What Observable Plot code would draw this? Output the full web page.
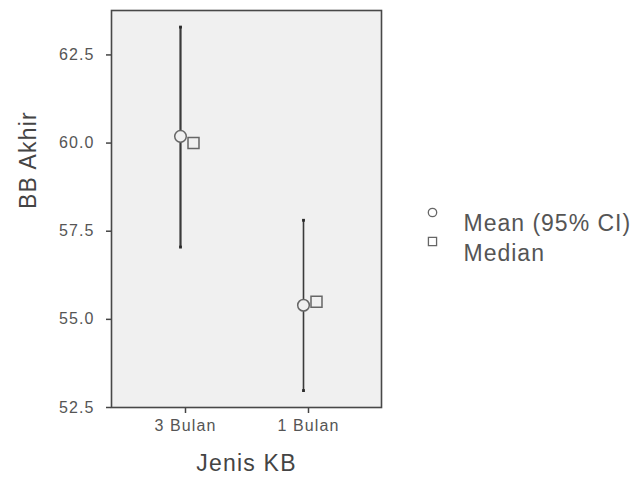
<!DOCTYPE html>
<html>
<head>
<meta charset="utf-8">
<script src="https://cdn.jsdelivr.net/npm/d3@7"></script>
<script src="https://cdn.jsdelivr.net/npm/@observablehq/plot@0.6"></script>
<style>
  html, body { margin: 0; padding: 0; background: #fff; }
  #chart svg { font-family: "Liberation Sans", Arial, sans-serif; }
  #chart g[aria-label="y-axis tick label"] text,
  #chart g[aria-label="x-axis tick label"] text { letter-spacing: 1.1px; }
  #chart g.lbl text { letter-spacing: 1.2px; }
  #chart g.leg text { letter-spacing: 1px; }
</style>
</head>
<body>
<div id="chart"></div>
<script>
const categories = ["3 Bulan", "1 Bulan"];
const means = [60.19, 55.4];
const medians = [60.0, 55.5];
const ciLow = [57.05, 52.98];
const ciHigh = [63.29, 57.81];
const yTicks = [52.5, 55.0, 57.5, 60.0, 62.5];
const legendLabels = ["Mean (95% CI)", "Median"];
const xTitle = "Jenis KB";
const yTitle = "BB Akhir";

const data = categories.map((c, i) => ({
  cat: c, mean: means[i], median: medians[i], lo: ciLow[i], hi: ciHigh[i],
  sw: i === 0 ? 2.2 : 1.6
}));
const caps = data.flatMap(d => [{cat: d.cat, v: d.lo}, {cat: d.cat, v: d.hi}]);

const chart = Plot.plot({
  width: 642,
  height: 489,
  marginLeft: 111,
  marginRight: 261,
  marginTop: 10,
  marginBottom: 82,
  style: {background: "#fff", color: "#555"},
  x: {type: "point", domain: categories, padding: 0.589, label: null},
  y: {domain: [52.5, 63.76], label: null},
  marks: [
    Plot.frame({fill: "#f0f0f0", stroke: "none"}),
    Plot.axisY({ticks: yTicks, tickFormat: d3.format(".1f"), tickSize: 5, tickPadding: 12, fontSize: 16, stroke: "#444", strokeWidth: 1.5, color: "#555", label: null}),
    Plot.axisX({tickSize: 6, tickPadding: 6, fontSize: 16, stroke: "#444", strokeWidth: 1.5, color: "#555", label: null}),
    Plot.ruleX(data, {x: "cat", y1: "lo", y2: "hi", dx: -5, stroke: "#3a3a3a", strokeWidth: "sw"}),
    Plot.dot(caps, {x: "cat", y: "v", dx: -5, symbol: "square", r: 1.6, fill: "#2a2a2a", stroke: null}),
    Plot.dot(data, {x: "cat", y: "median", dx: 8, symbol: "square", r: 6.2, fill: "#f0f0f0", stroke: "#666", strokeWidth: 1.5}),
    Plot.dot(data, {x: "cat", y: "mean", dx: -5, r: 5.8, fill: "#f0f0f0", stroke: "#666", strokeWidth: 1.5}),
    Plot.frame({stroke: "#484848", strokeWidth: 1.6}),
    Plot.text([yTitle], {frameAnchor: "left", dx: -83, rotate: -90, fontSize: 23, fill: "#444", className: "lbl"}),
    Plot.text([xTitle], {frameAnchor: "bottom", dy: 63, fontSize: 23, fill: "#444", className: "lbl"}),
    Plot.dot([legendLabels[0]], {frameAnchor: "top-right", dx: 51, dy: 202, r: 4.2, fill: "#fff", stroke: "#666", strokeWidth: 1.3}),
    Plot.dot([legendLabels[1]], {frameAnchor: "top-right", dx: 51, dy: 231, symbol: "square", r: 4.6, fill: "#fff", stroke: "#666", strokeWidth: 1.3}),
    Plot.text([legendLabels[0]], {frameAnchor: "top-right", dx: 82, dy: 204, text: d => d, textAnchor: "start", fontSize: 23, fill: "#555", className: "leg"}),
    Plot.text([legendLabels[1]], {frameAnchor: "top-right", dx: 82, dy: 234, text: d => d, textAnchor: "start", fontSize: 23, fill: "#555", className: "leg"})
  ]
});
document.getElementById("chart").appendChild(chart);
</script>
</body>
</html>
